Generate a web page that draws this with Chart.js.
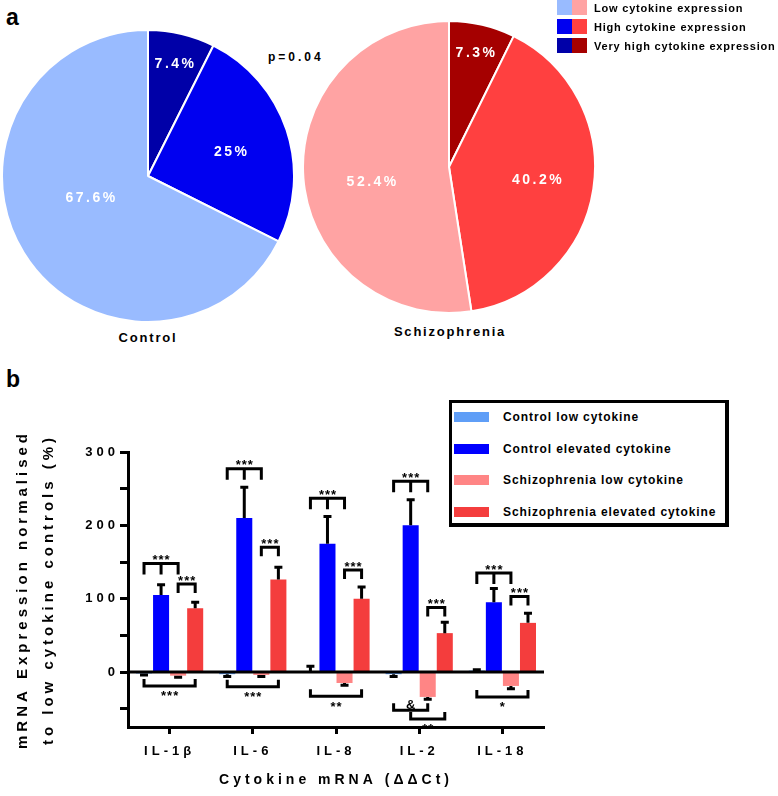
<!DOCTYPE html>
<html>
<head>
<meta charset="utf-8">
<title>Cytokine expression</title>
<script src="https://cdn.jsdelivr.net/npm/chart.js@4.4.1/dist/chart.umd.min.js"></script>
<style>
  body { margin: 0; background: #fff; }
  #page { position: relative; width: 778px; height: 796px; overflow: hidden;
          font-family: "Liberation Sans", Arial, sans-serif; font-weight: bold; color: #000; }
  #page canvas, #page .t { position: absolute; }
  .t { white-space: nowrap; }
  .panel { font-size: 23px; line-height: 26px; }
  .group { width: 200px; text-align: center; font-size: 13px; line-height: 16px; letter-spacing: 1.8px; }
  #pvalue { left: 268px; top: 50px; font-size: 12px; line-height: 14px; letter-spacing: 3px; }
  #pieKey { position: absolute; left: 557px; top: 0; width: 240px; font-size: 11px;
            letter-spacing: 0.8px; white-space: nowrap; }
  #pieKey .row { display: flex; align-items: center; height: 15px; margin-bottom: 4px; }
  #pieKey .sw { width: 15px; height: 15px; flex: none; }
  #pieKey span { margin-left: 7px; }
  #barKey { position: absolute; left: 449px; top: 400px; width: 273px; height: 120px;
            border: solid #000; border-width: 3px 4px 4px 3px; background: #fff;
            font-size: 12px; letter-spacing: 0.9px; white-space: nowrap; }
  #barKey .row { position: absolute; left: 2px; height: 16px; display: flex; align-items: center; }
  #barKey .sw { width: 35px; height: 10px; flex: none; }
  #barKey span { margin-left: 14px; }
</style>
</head>
<body>
<div id="page">
  <div class="t panel" style="left:6px;top:4px">a</div>
  <div class="t panel" style="left:6px;top:366px">b</div>
  <div class="t" id="pvalue">p=0.04</div>
  <canvas id="pieControl" width="294" height="294" style="left:1px;top:29px"></canvas>
  <canvas id="pieSchizo" width="294" height="294" style="left:302px;top:20px"></canvas>
  <div class="t group" id="nameControl" style="left:48px;top:330px"></div>
  <div class="t group" id="nameSchizo" style="left:350px;top:324px"></div>
  <div id="pieKey"></div>
  <canvas id="barChart" width="778" height="416" style="left:0;top:380px"></canvas>
  <div id="barKey"></div>
</div>
<script>
// ---- pie data (share of subjects, %) ----
const pieGroups = ['Control', 'Schizophrenia'];
const pieLevels = ['Very high cytokine expression', 'High cytokine expression', 'Low cytokine expression'];
const controlShares = [7.4, 25, 67.6];
const schizoShares = [7.3, 40.2, 52.4];

// ---- bar data (mRNA expression, % of low cytokine controls) ----
const cytokines = ['IL-1β', 'IL-6', 'IL-8', 'IL-2', 'IL-18'];
const seriesNames = ['Control low cytokine', 'Control elevated cytokine',
                     'Schizophrenia low cytokine', 'Schizophrenia elevated cytokine'];
const controlLow = [-2, -3, 1, -3, 2];
const controlLowSem = [2, 3, 7, 3, 1];
const controlHigh = [105, 210, 175, 200, 95];
const controlHighSem = [14, 42, 37, 35, 19];
const schizoLow = [-5, -4, -15, -34, -19];
const schizoLowSem = [2, 2, 3, 3, 4];
const schizoHigh = [87, 126, 100, 53, 67];
const schizoHighSem = [8, 17, 16, 15, 13];
const yTicks = [-50, 0, 50, 100, 150, 200, 250, 300];

// significance brackets: cytokine, first series, last series, middle series, height, mark
const sigCytokine = [0, 0, 0, 1, 1, 1, 2, 2, 2, 3, 3, 3, 3, 4, 4, 4];
const sigFrom     = [0, 2, 0, 0, 2, 0, 0, 2, 0, 0, 2, 0, 1, 0, 2, 0];
const sigTo       = [2, 3, 3, 2, 3, 3, 2, 3, 3, 2, 3, 2, 3, 2, 3, 3];
const sigMid      = [1, null, null, 1, null, null, 1, null, null, 1, null, null, null, 1, null, null];
const sigLevel    = [148, 120, -19, 277, 170, -20, 237, 139, -33, 260, 88, -52, -64, 135, 103, -34];
const sigMark     = ['***', '***', '***', '***', '***', '***', '***', '***', '**',
                     '***', '***', '&', '**', '***', '***', '*'];

const FONT = '"Liberation Sans", Arial, sans-serif';
const controlColors = ['#0000a8', '#0000f0', '#99bbff'];
const schizoColors = ['#a50000', '#ff4040', '#ffa3a3'];
const barColors = ['#5f9ef7', '#0000ff', '#ff8585', '#f43d3d'];

// white % labels inside the slices
const sliceLabels = {
  id: 'sliceLabels',
  afterDatasetsDraw(chart, args, opts) {
    const ctx = chart.ctx;
    const data = chart.data.datasets[0].data;
    ctx.save();
    ctx.font = 'bold 14px ' + FONT;
    ctx.letterSpacing = '2.5px';
    ctx.fillStyle = '#fff';
    ctx.textAlign = 'center';
    ctx.textBaseline = 'middle';
    chart.getDatasetMeta(0).data.forEach((arc, i) => {
      const a = (arc.startAngle + arc.endAngle) / 2 + opts.turn[i] * Math.PI / 180;
      const r = arc.outerRadius * opts.depth[i];
      ctx.fillText(data[i] + '%', arc.x + Math.cos(a) * r + 1, arc.y + Math.sin(a) * r);
    });
    ctx.restore();
  }
};

function pieChart(id, shares, colors, depth, turn) {
  return new Chart(document.getElementById(id), {
    type: 'pie',
    data: {
      labels: pieLevels,
      datasets: [{ data: shares, backgroundColor: colors, borderColor: '#fff', borderWidth: 2 }]
    },
    options: {
      responsive: false,
      animation: false,
      plugins: { legend: { display: false }, tooltip: { enabled: false },
                 sliceLabels: { depth: depth, turn: turn } }
    },
    plugins: [sliceLabels]
  });
}

pieChart('pieControl', controlShares, controlColors, [0.79, 0.59, 0.42], [0, 2, 11]);
pieChart('pieSchizo', schizoShares, schizoColors, [0.8, 0.61, 0.54], [0, 0, -7]);

document.getElementById('nameControl').textContent = pieGroups[0];
document.getElementById('nameSchizo').textContent = pieGroups[1];

// pie legend: one row per level, blue and red swatch side by side
const pieKey = document.getElementById('pieKey');
[2, 1, 0].forEach(lvl => {
  const row = document.createElement('div');
  row.className = 'row';
  row.innerHTML = '<div class="sw" style="background:' + controlColors[lvl] + '"></div>' +
                  '<div class="sw" style="background:' + schizoColors[lvl] + '"></div>' +
                  '<span>' + pieLevels[lvl] + '</span>';
  pieKey.appendChild(row);
});

// bar legend
const barKey = document.getElementById('barKey');
seriesNames.forEach((name, d) => {
  const row = document.createElement('div');
  row.className = 'row';
  row.style.top = (6 + d * 31.7) + 'px';
  row.innerHTML = '<div class="sw" style="background:' + barColors[d] + '"></div><span>' + name + '</span>';
  barKey.appendChild(row);
});

const barValues = [controlLow, controlHigh, schizoLow, schizoHigh];
const barSems = [controlLowSem, controlHighSem, schizoLowSem, schizoHighSem];

// zero line, error bars and significance brackets
const barExtras = {
  id: 'barExtras',
  beforeDraw(chart) {
    chart.ctx.letterSpacing = '4px';
  },
  afterDatasetsDraw(chart) {
    const ctx = chart.ctx;
    const ys = chart.scales.y;
    const area = chart.chartArea;
    ctx.save();
    ctx.strokeStyle = '#000';
    ctx.fillStyle = '#000';
    ctx.lineWidth = 3;

    const y0 = ys.getPixelForValue(0);
    ctx.beginPath();
    ctx.moveTo(area.left, y0);
    ctx.lineTo(area.right, y0);
    ctx.stroke();

    barSems.forEach((sems, d) => {
      chart.getDatasetMeta(d).data.forEach((bar, i) => {
        const v = barValues[d][i];
        const ye = ys.getPixelForValue(v < 0 ? v - sems[i] : v + sems[i]);
        ctx.beginPath();
        ctx.moveTo(bar.x, bar.y);
        ctx.lineTo(bar.x, ye);
        ctx.moveTo(bar.x - 4, ye);
        ctx.lineTo(bar.x + 4, ye);
        ctx.stroke();
      });
    });

    ctx.letterSpacing = '1px';
    ctx.font = 'bold 13px ' + FONT;
    ctx.textAlign = 'center';
    ctx.textBaseline = 'alphabetic';
    sigLevel.forEach((lvl, k) => {
      const c = sigCytokine[k];
      const xa = chart.getDatasetMeta(sigFrom[k]).data[c].x;
      const xb = chart.getDatasetMeta(sigTo[k]).data[c].x;
      const y = ys.getPixelForValue(lvl);
      const leg = lvl > 0 ? (sigMid[k] !== null ? 11 : 9) : -7;
      ctx.beginPath();
      ctx.moveTo(xa, y + leg);
      ctx.lineTo(xa, y);
      ctx.lineTo(xb, y);
      ctx.lineTo(xb, y + leg);
      if (sigMid[k] !== null) {
        const xm = chart.getDatasetMeta(sigMid[k]).data[c].x;
        ctx.moveTo(xm, y);
        ctx.lineTo(xm, y + leg);
      }
      ctx.stroke();
      // mark centred on the bracket; '&' sits inside its bracket
      const m = ctx.measureText(sigMark[k]);
      const half = (m.actualBoundingBoxAscent - m.actualBoundingBoxDescent) / 2;
      const above = lvl > 0 || sigMark[k] === '&';
      const cy = above ? y - 6 : y + 8;
      ctx.fillText(sigMark[k], (xa + xb) / 2 + 0.5, cy + half);
    });
    ctx.restore();
  }
};

new Chart(document.getElementById('barChart'), {
  type: 'bar',
  data: {
    labels: cytokines,
    datasets: seriesNames.map((name, d) => ({
      label: name,
      data: barValues[d],
      backgroundColor: barColors[d],
      borderWidth: 0,
      barPercentage: 0.94,
      categoryPercentage: 0.82
    }))
  },
  options: {
    responsive: false,
    animation: false,
    layout: { padding: { top: 72, right: 234, left: 0, bottom: 0 } },
    plugins: { legend: { display: false }, tooltip: { enabled: false } },
    scales: {
      x: {
        afterFit: s => { s.height = 69; },
        ticks: { font: { size: 13, weight: 'bold', family: FONT }, color: '#000', padding: 10, maxRotation: 0 },
        grid: { offset: false, drawOnChartArea: false, tickLength: 7, tickWidth: 3, tickColor: '#000' },
        border: { display: true, color: '#000', width: 3 },
        title: { display: true, text: 'Cytokine mRNA (ΔΔCt)', color: '#000',
                 font: { size: 14, weight: 'bold', family: FONT }, padding: { top: 0, bottom: 7 } }
      },
      y: {
        min: -75,
        max: 300,
        afterBuildTicks: s => { s.ticks = yTicks.map(v => ({ value: v })); },
        afterFit: s => { s.width = 128; },
        ticks: { font: { size: 13, weight: 'bold', family: FONT }, color: '#000', padding: 1,
                 callback: v => (v % 100 === 0 ? v : '') },
        grid: { drawOnChartArea: false, tickLength: 8, tickWidth: 3, tickColor: '#000' },
        border: { display: true, color: '#000', width: 3 },
        title: { display: true, color: '#000',
                 text: ['mRNA Expression normalised', 'to low cytokine controls (%)'],
                 font: { size: 15, weight: 'bold', family: FONT, lineHeight: 1.73 },
                 padding: { top: 10, bottom: 0 } }
      }
    }
  },
  plugins: [barExtras]
});
</script>
</body>
</html>
